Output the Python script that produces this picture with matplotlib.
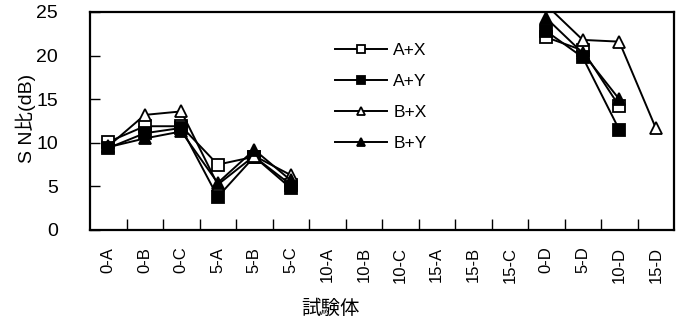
import numpy as np
import matplotlib.pyplot as plt
from matplotlib.ticker import FixedLocator

plt.rcParams['font.family'] = ['Liberation Sans', 'Noto Sans CJK JP', 'DejaVu Sans']

categories = ["0-A", "0-B", "0-C", "5-A", "5-B", "5-C", "10-A", "10-B", "10-C",
              "15-A", "15-B", "15-C", "0-D", "5-D", "10-D", "15-D"]
nan = np.nan
a_x = [10.1, 11.9, 11.9, 7.5, 8.4, 5.2, nan, nan, nan, nan, nan, nan, 22.1, 20.6, 14.2, nan]
a_y = [9.4, 11.1, 11.7, 3.8, 8.4, 4.8, nan, nan, nan, nan, nan, nan, 22.8, 19.8, 11.5, nan]
b_x = [9.6, 13.2, 13.6, 5.2, 8.5, 6.3, nan, nan, nan, nan, nan, nan, 25.8, 21.8, 21.6, 11.7]
b_y = [9.5, 10.5, 11.3, 5.4, 9.2, 5.7, nan, nan, nan, nan, nan, nan, 24.3, 20.3, 15.0, nan]

series = [("A+X", a_x, "s", "white"),
          ("A+Y", a_y, "s", "black"),
          ("B+X", b_x, "^", "white"),
          ("B+Y", b_y, "^", "black")]

fig = plt.figure(figsize=(6.83, 3.3), dpi=100)
ax = fig.add_axes([90/683, 1-230/330, 584/683, 218/330])

x = np.arange(len(categories))
for name, vals, mk, fc in series:
    ax.plot(x, vals, color="black", lw=1.4, marker=mk, ms=8,
            markerfacecolor=fc, markeredgecolor="black", markeredgewidth=1.3,
            label=name)

ax.set_xlim(-0.5, len(categories) - 0.5)
ax.set_ylim(0, 25)
ax.set_yticks([0, 5, 10, 15, 20, 25])
ax.set_xticks(x)
ax.set_xticklabels(categories, rotation=90, fontsize=12)
ax.xaxis.set_minor_locator(FixedLocator(np.arange(0.5, len(categories) - 1, 1)))
ax.tick_params(axis='x', which='major', length=0, pad=12)
ax.tick_params(axis='x', which='minor', direction='in', length=8, width=1)
ax.tick_params(axis='y', direction='in', length=7, width=1, pad=23, labelsize=14)
for s in ax.spines.values():
    s.set_linewidth(1.6)

ax.set_ylabel("S N比(dB)", fontsize=14)
ax.yaxis.set_label_coords(-0.093, 0.51)
ax.set_xlabel("試験体", fontsize=14)
ax.xaxis.set_label_coords(0.411, -0.32)

leg = ax.legend(loc="upper left", bbox_to_anchor=(0.393, 0.93), frameon=False,
                fontsize=12.5, handlelength=3.0, labelspacing=0.92,
                handletextpad=0.35, markerscale=0.75)

fig.savefig("out.png", dpi=100)
